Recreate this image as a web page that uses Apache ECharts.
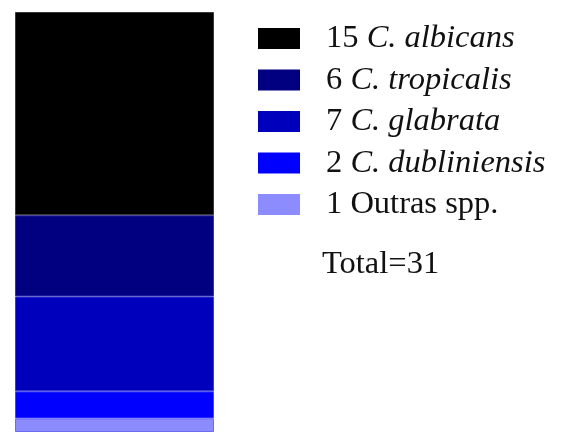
<!DOCTYPE html>
<html><head><meta charset="utf-8">
<script src="https://cdn.jsdelivr.net/npm/echarts@6/dist/echarts.min.js"></script>
<style>html,body{margin:0;padding:0;background:#fff}#c{width:568px;height:432px}</style>
</head><body><div id="c"></div>
<script>
// Data (top of stack first)
const speciesNames = ["C. albicans", "C. tropicalis", "C. glabrata", "C. dubliniensis", "Outras spp."];
const speciesItalic = [true, true, true, true, false];
const counts = [15, 6, 7, 2, 1];
const colors = ["#000000", "#000080", "#0000bc", "#0000ff", "#8c8cff"];
const borderColors = ["#3a3a3a", "#3434b0", "#3a3ad4", "#4444ff", "#6a6aff"];
const category = ["Total"];

const total = counts.reduce((a, b) => a + b, 0);
const labels = speciesNames.map((n, i) => counts[i] + " " + n);

const series = [];
for (let i = counts.length - 1; i >= 0; i--) {
  series.push({
    name: labels[i],
    type: 'bar',
    stack: 'all',
    barWidth: '100%',
    data: [counts[i]],
    itemStyle: { color: colors[i], borderColor: borderColors[i], borderWidth: 1 },
    emphasis: { disabled: true }
  });
}

const FS = 32.5;
const chart = echarts.init(document.getElementById('c'), null, { renderer: 'canvas' });
chart.setOption({
  animation: false,
  backgroundColor: '#ffffff',
  grid: { left: 15, width: 199, top: 12, height: 424, containLabel: false },
  xAxis: { type: 'category', data: category, show: false },
  yAxis: { type: 'value', min: 0, max: total, show: false },
  legend: {
    left: 258, top: 22, orient: 'vertical', padding: 0,
    itemWidth: 42, itemHeight: 21, itemGap: 8.5,
    icon: 'rect',
    itemStyle: { borderWidth: 0 },
    data: labels,
    selectedMode: false,
    formatter: function (name) {
      const i = labels.indexOf(name);
      const body = speciesItalic[i]
        ? '{n|' + counts[i] + ' }{i|' + speciesNames[i] + '}'
        : '{n|' + counts[i] + ' ' + speciesNames[i] + '}';
      return '{sp| }' + body;
    },
    textStyle: {
      fontFamily: 'Liberation Serif', fontSize: FS, color: '#111',
      rich: {
        sp: { width: 21, fontSize: FS, lineHeight: 21 },
        n: { fontFamily: 'Liberation Serif', fontSize: FS, lineHeight: 21, color: '#111' },
        i: { fontFamily: 'Liberation Serif', fontSize: FS, fontStyle: 'italic', lineHeight: 21, color: '#111' }
      }
    }
  },
  title: {
    text: 'Total=' + total,
    left: 317, top: 243,
    textStyle: { fontFamily: 'Liberation Serif', fontSize: FS, fontWeight: 'normal', color: '#111' }
  },
  series: series
});
</script></body></html>
